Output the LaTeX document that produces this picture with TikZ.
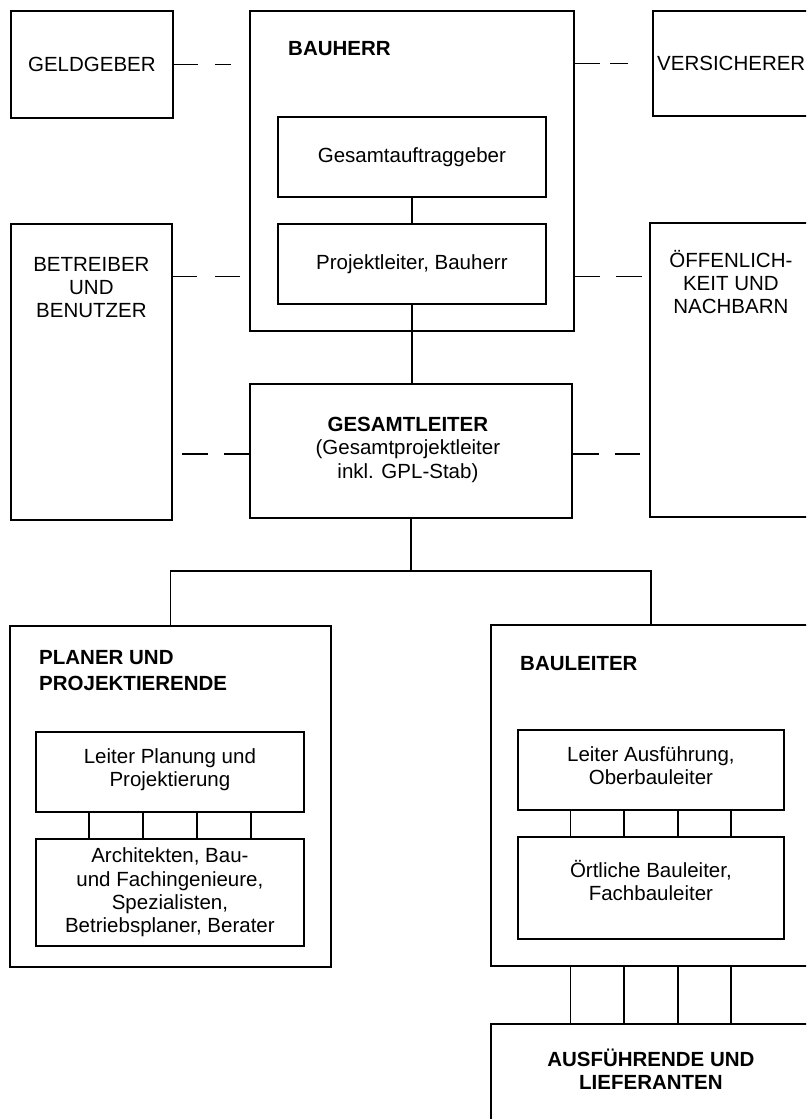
\documentclass[tikz,border=0pt]{standalone}
\usepackage{fontspec}
\setmainfont{Liberation Sans}
\usetikzlibrary{calc}
\begin{document}
\begin{tikzpicture}[x=1pt,y=-1pt,
  every node/.style={font=\fontsize{20.5}{23.3}\selectfont},
  box/.style={draw, line width=1.8pt, rectangle, inner sep=0pt, anchor=north west, align=center},
  txt/.style={inner sep=0pt, align=center},
  link/.style={line width=1.8pt},
  loose/.style={line width=1.8pt, dash pattern=#1},
]
\useasboundingbox (0,0) rectangle (806,1119);
\clip (0,0) rectangle (806,1119);

% --- top row: Bauherr and its partners
\node[box, minimum width=162pt, minimum height=107pt] (geld) at (10,10) {GELDGEBER};
\node[box, minimum width=324pt, minimum height=320pt] (bauherr) at (249,10) {};
\node[box, minimum width=268pt, minimum height=80pt] (auftrag) at (277,116) {Gesamtauftraggeber};
\node[box, minimum width=268pt, minimum height=80pt] (plbau) at (277,223) {Projektleiter, Bauherr};
\node[box, minimum width=170pt, minimum height=105pt] (vers) at (652,10) {};
\node[box, minimum width=161pt, minimum height=296pt] (betr) at (10,223) {};
\node[box, minimum width=165pt, minimum height=294pt] (oeff) at (649,222) {};
\node[box, minimum width=322pt, minimum height=134pt] (gesamt) at (249,383) {};

\node[txt, anchor=base west] (t-bauherr) at ([shift={(39,45)}]bauherr.north west) {\bfseries BAUHERR};
\node[txt, anchor=west] (t-vers) at ([shift={(5,0)}]vers.west) {VERSICHERER};
\node[txt] (t-betr) at ([shift={(0,64.7)}]betr.north) {BETREIBER\\UND\\BENUTZER};
\node[txt] (t-oeff) at ([shift={(-1.5,60)}]oeff.north) {ÖFFENLICH-\\KEIT UND\\NACHBARN};
\node[txt] (t-gesamt) at ([shift={(-3,-1)}]gesamt.center)
  {{\bfseries GESAMTLEITER}\\(Gesamtprojektleiter\\inkl. GPL-Stab)};

% --- lower part: planning and site management
\node[box, minimum width=321pt, minimum height=341pt] (planer) at (9,625) {};
\node[box, minimum width=268pt, minimum height=80pt] (leiterP) at (35,731) {};
\node[box, minimum width=268pt, minimum height=107pt] (archi) at (35,838)
  {Architekten, Bau-\\und Fachingenieure,\\Spezialisten,\\Betriebsplaner, Berater};
\node[box, minimum width=320pt, minimum height=341pt] (bauleiter) at (490,624) {};
\node[box, minimum width=266pt, minimum height=80pt] (leiterA) at (517,729) {};
\node[box, minimum width=266pt, minimum height=102pt] (oertl) at (517,836) {};
\node[box, minimum width=320pt, minimum height=130pt] (ausf) at (490,1023) {};

\node[txt, align=left, anchor=north west, font=\fontsize{20.5}{26}\selectfont\bfseries] (t-planer)
  at ([shift={(30,25.3)}]planer.north west) {PLANER UND\\PROJEKTIERENDE};
\node[txt] (t-leiterP) at ([yshift=2.5pt]leiterP.center) {Leiter Planung und\\Projektierung};
\node[txt, anchor=base west] (t-bauleiter) at ([shift={(30,46)}]bauleiter.north west) {\bfseries BAULEITER};
\node[txt] (t-leiterA) at ([yshift=4pt]leiterA.center) {Leiter Ausführung,\\Oberbauleiter};
\node[txt] (t-oertl) at ([yshift=7.5pt]oertl.center) {Örtliche Bauleiter,\\Fachbauleiter};
\node[txt, font=\fontsize{20.5}{23.3}\selectfont\bfseries] (t-ausf)
  at ([shift={(0,46.5)}]ausf.north) {AUSFÜHRENDE UND\\LIEFERANTEN};

% --- solid lines of the hierarchy
\coordinate (bus) at (410,571);
\draw[link] (auftrag.south) -- (plbau.north);
\draw[link] (plbau.south) -- (plbau.south |- gesamt.north);
\draw[link] (gesamt.south) -- (gesamt.south |- bus);
\draw[link] (planer.north) -- (planer.north |- bus) -- (bauleiter.north |- bus) -- (bauleiter.north);
\foreach \f in {0.2,0.4,0.6,0.8} {
  \coordinate (cp) at ($(leiterP.south west)!\f!(leiterP.south east)$);
  \coordinate (ca) at ($(leiterA.south west)!\f!(leiterA.south east)$);
  \draw[link] (cp) -- (cp |- archi.north);
  \draw[link] (ca) -- (ca |- oertl.north);
  \draw[link] (ca |- bauleiter.south) -- (ca |- ausf.north);
}

% --- loose (dashed) relations
\coordinate (hmid) at (0,276.5);
\coordinate (hlow) at (0,454);
\draw[loose={on 24pt off 17pt on 16pt off 30pt}] (geld.east) -- (geld.east -| bauherr.west);
\draw[loose={on 25pt off 10pt on 18pt off 30pt}] (bauherr.east |- vers.west) -- (vers.west);
\draw[loose={on 24pt off 18pt on 25pt off 30pt}] (betr.east |- hmid) -- (bauherr.west |- hmid);
\draw[loose={on 25pt off 16pt on 26pt off 30pt}] (bauherr.east |- hmid) -- (oeff.west |- hmid);
\draw[loose={on 25pt off 16pt on 26pt off 30pt}] (gesamt.west |- hlow) -- (betr.east |- hlow);
\draw[loose={on 26pt off 16pt on 25pt off 30pt}] (gesamt.east |- hlow) -- (oeff.west |- hlow);
\end{tikzpicture}
\end{document}
